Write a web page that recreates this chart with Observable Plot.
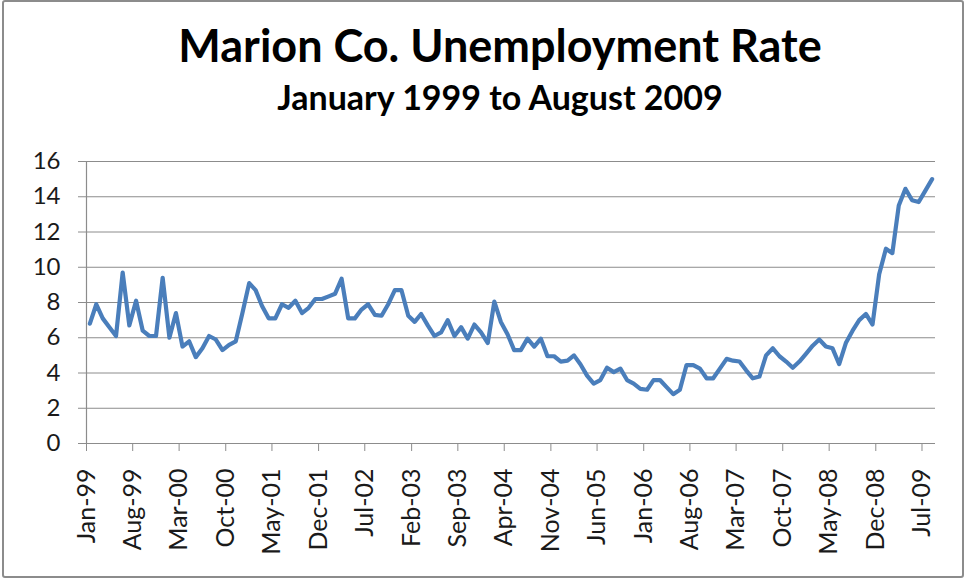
<!DOCTYPE html>
<html><head><meta charset="utf-8">
<script src="https://cdn.jsdelivr.net/npm/d3@7"></script>
<script src="https://cdn.jsdelivr.net/npm/@observablehq/plot@0.6"></script>
<style>
html,body{margin:0;padding:0;background:#fff;width:965px;height:580px;overflow:hidden;}
#frame{position:absolute;left:2px;top:0px;width:958px;height:574px;border:2px solid #8c8c8c;border-radius:3px;}
#title{position:absolute;left:0;width:1000px;top:23px;text-align:center;font-family:Lato,sans-serif;font-weight:bold;font-size:45px;line-height:45px;color:#000;}
#subtitle{position:absolute;left:0;width:1000px;top:80px;text-align:center;font-family:Lato,sans-serif;font-weight:bold;font-size:34px;line-height:34px;color:#000;}
#chart{position:absolute;left:0;top:130px;}
</style></head>
<body>
<div id="frame"></div>
<div id="title">Marion Co. Unemployment Rate</div>
<div id="subtitle">January 1999 to August 2009</div>
<div id="chart"></div>
<script>
const firstMonth = "Jan-99";
const rates = [
  6.8, 7.9, 7.1, 6.6, 6.1, 9.7, 6.7, 8.1, 6.4, 6.1, 6.1, 9.4,
  6.0, 7.4, 5.5, 5.8, 4.9, 5.4, 6.1, 5.9, 5.3, 5.6, 5.8, 7.4,
  9.1, 8.7, 7.8, 7.1, 7.1, 7.9, 7.7, 8.1, 7.4, 7.7, 8.2, 8.2,
  8.35, 8.5, 9.35, 7.1, 7.1, 7.6, 7.9, 7.3, 7.25, 7.9, 8.7, 8.7,
  7.25, 6.9, 7.35, 6.7, 6.1, 6.3, 7.0, 6.1, 6.6, 5.95, 6.75, 6.3,
  5.7, 8.05, 6.9, 6.2, 5.3, 5.3, 5.95, 5.5, 5.95, 4.95, 4.95, 4.65,
  4.7, 5.0, 4.5, 3.85, 3.4, 3.6, 4.3, 4.05, 4.25, 3.6, 3.4, 3.1,
  3.05, 3.6, 3.6, 3.2, 2.8, 3.05, 4.45, 4.45, 4.25, 3.7, 3.7, 4.25,
  4.8, 4.7, 4.65, 4.15, 3.7, 3.8, 5.0, 5.4, 4.95, 4.65, 4.3, 4.65,
  5.1, 5.55, 5.9, 5.5, 5.4, 4.5, 5.7, 6.4, 7.0, 7.35, 6.75, 9.6,
  11.05, 10.8, 13.5, 14.45, 13.8, 13.7, 14.35, 15.0
];
const xTickLabels = ["Jan-99","Aug-99","Mar-00","Oct-00","May-01","Dec-01","Jul-02","Feb-03","Sep-03","Apr-04","Nov-04","Jun-05","Jan-06","Aug-06","Mar-07","Oct-07","May-08","Dec-08","Jul-09"];
const yTicks = [0, 2, 4, 6, 8, 10, 12, 14, 16];

const parse = d3.utcParse("%b-%y");
const start = parse(firstMonth);
const end = d3.utcMonth.offset(start, rates.length);
const data = rates.map((rate, i) => {
  const m0 = d3.utcMonth.offset(start, i), m1 = d3.utcMonth.offset(start, i + 1);
  return {date: new Date((+m0 + +m1) / 2), rate};
});
const tickDates = xTickLabels.map(parse);

const chart = Plot.plot({
  width: 965, height: 450,
  marginTop: 31, marginBottom: 137, marginLeft: 86, marginRight: 30,
  style: {fontFamily: "Lato, sans-serif", fontSize: "24px", background: "transparent"},
  x: {type: "utc", domain: [start, end]},
  y: {domain: [0, 16]},
  marks: [
    Plot.gridY(yTicks, {stroke: "#8c8c8c", strokeOpacity: 1, strokeWidth: 1}),
    Plot.ruleY([0], {stroke: "#8c8c8c", strokeWidth: 1.2}),
    Plot.ruleX([start], {stroke: "#8c8c8c", strokeWidth: 1.2}),
    Plot.axisY(yTicks, {tickSize: 8, tickPadding: 18, label: null, stroke: "#8c8c8c", fill: "#1a1a1a", fontSize: 24}),
    Plot.axisX(tickDates, {tickSize: 8, tickPadding: 17, tickRotate: -90, tickFormat: d3.utcFormat("%b-%y"), label: null, stroke: "#8c8c8c", fill: "#1a1a1a", fontSize: 25}),
    Plot.lineY(data, {x: "date", y: "rate", stroke: "#4a7ebb", strokeWidth: 4.2})
  ]
});
document.getElementById("chart").appendChild(chart);
</script>
</body></html>
